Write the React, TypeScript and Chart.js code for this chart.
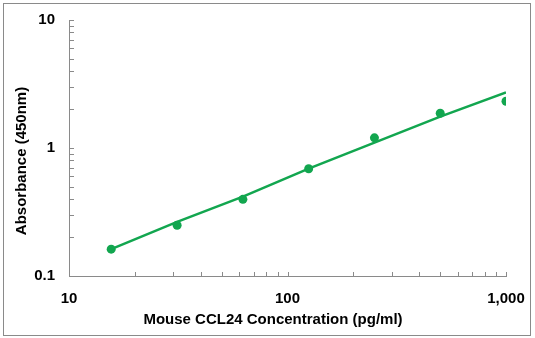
import React, { useEffect, useRef } from "react";
import { Chart, registerables } from "chart.js";

Chart.register(...registerables);

const concentrations = [15.6, 31.25, 62.5, 125, 250, 500, 1000];
const absorbance = [0.162, 0.249, 0.397, 0.689, 1.2, 1.87, 2.32];
const fitValues = [0.162, 0.265, 0.417, 0.69, 1.1, 1.76, 2.72];
const xTickLabels: Record<number, string> = { 10: "10", 100: "100", 1000: "1,000" };
const yTickLabels: Record<number, string> = { 0.1: "0.1", 1: "1", 10: "10" };
const xMinorTicks = [10, 20, 30, 40, 50, 60, 70, 80, 90, 100, 200, 300, 400, 500, 600, 700, 800, 900, 1000];
const yMinorTicks = [0.1, 0.2, 0.3, 0.4, 0.5, 0.6, 0.7, 0.8, 0.9, 1, 2, 3, 4, 5, 6, 7, 8, 9, 10];
const xTitle = "Mouse CCL24 Concentration (pg/ml)";
const yTitle = "Absorbance (450nm)";

const GREEN = "#12a64f";
const GRAY = "#8a8a8a";
const FONT = "'Liberation Sans', Arial, sans-serif";

export default function App() {
  const ref = useRef<HTMLCanvasElement | null>(null);

  useEffect(() => {
    const canvas = ref.current;
    if (!canvas) return;

    const decor = {
      id: "decor",
      afterDraw(chart: any) {
        const ctx = chart.ctx;
        const xs = chart.scales.x;
        const ys = chart.scales.y;
        const area = chart.chartArea;
        ctx.save();
        // outer frame
        ctx.strokeStyle = GRAY;
        ctx.lineWidth = 1;
        ctx.strokeRect(3.5, 3.5, 527, 332);
        // inward tick marks
        ctx.beginPath();
        for (const v of xMinorTicks) {
          const px = Math.round(xs.getPixelForValue(v)) + 0.5;
          ctx.moveTo(px, area.bottom);
          ctx.lineTo(px, area.bottom - 4);
        }
        for (const v of yMinorTicks) {
          const py = Math.round(ys.getPixelForValue(v)) + 0.5;
          ctx.moveTo(area.left, py);
          ctx.lineTo(area.left + 5, py);
        }
        ctx.stroke();
        // titles
        ctx.fillStyle = "#000";
        ctx.font = `bold 15px ${FONT}`;
        ctx.textAlign = "center";
        ctx.textBaseline = "middle";
        ctx.fillText(xTitle, 273, 320);
        ctx.translate(22, 161);
        ctx.rotate(-Math.PI / 2);
        ctx.fillText(yTitle, 0, 0);
        ctx.restore();
      },
    };

    const chart = new Chart(canvas, {
      type: "scatter",
      data: {
        datasets: [
          {
            type: "line",
            label: "Fit",
            data: concentrations.map((x, i) => ({ x, y: fitValues[i] })),
            borderColor: GREEN,
            borderWidth: 2.5,
            pointRadius: 0,
            fill: false,
            tension: 0,
          },
          {
            label: "Data",
            data: concentrations.map((x, i) => ({ x, y: absorbance[i] })),
            backgroundColor: GREEN,
            borderColor: GREEN,
            pointRadius: 4.5,
            pointBorderWidth: 0,
          },
        ],
      },
      options: {
        responsive: false,
        animation: false,
        devicePixelRatio: 1,
        layout: { padding: { left: 0, top: 20, right: 29, bottom: 0 } },
        plugins: { legend: { display: false }, tooltip: { enabled: false } },
        scales: {
          x: {
            type: "logarithmic",
            min: 10,
            max: 1000,
            afterFit(scale: any) {
              scale.height = 62;
              scale.paddingLeft = 0;
              scale.paddingRight = 0;
            },
            grid: { drawOnChartArea: false, drawTicks: false },
            border: { display: true, color: GRAY, width: 1 },
            ticks: {
              autoSkip: false,
              maxRotation: 0,
              padding: 14,
              color: "#000",
              font: { family: FONT, size: 15, weight: "bold" },
              callback: (v: any) => xTickLabels[Number(v)] ?? "",
            },
          },
          y: {
            type: "logarithmic",
            min: 0.1,
            max: 10,
            afterFit(scale: any) {
              scale.width = 69;
              scale.paddingTop = 0;
              scale.paddingBottom = 0;
            },
            grid: { drawOnChartArea: false, drawTicks: false },
            border: { display: true, color: GRAY, width: 1 },
            ticks: {
              autoSkip: false,
              padding: 14,
              color: "#000",
              font: { family: FONT, size: 15, weight: "bold" },
              callback: (v: any) => yTickLabels[Number(v)] ?? "",
            },
          },
        },
      },
      plugins: [decor],
    } as any);

    return () => chart.destroy();
  }, []);

  return (
    <div style={{ position: "fixed", left: 0, top: 0, width: 535, height: 338, background: "#fff" }}>
      <canvas ref={ref} width={535} height={338} style={{ display: "block" }} />
    </div>
  );
}
